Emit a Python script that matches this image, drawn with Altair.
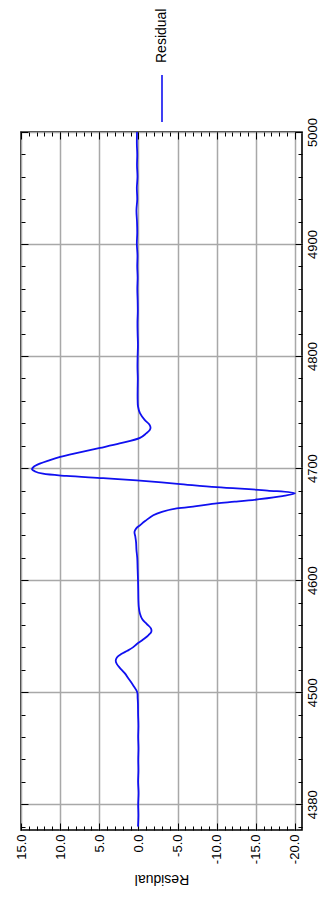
import altair as alt
import pandas as pd

series_name = "Residual"
axis_title = "Residual"

wavelength = [4380, 4390, 4400, 4410, 4420, 4430, 4440, 4450, 4460, 4470, 4480, 4490, 4495,
              4500, 4506, 4512, 4517, 4522, 4525, 4528, 4531, 4534, 4537, 4540, 4543, 4547, 4551,
              4554, 4557, 4561, 4565, 4570, 4576, 4582, 4590, 4600, 4610, 4620, 4627, 4634,
              4639, 4643, 4646, 4649, 4653, 4658, 4661, 4664, 4666, 4668.5, 4670, 4672, 4675,
              4677.5, 4680, 4683, 4686, 4689, 4691, 4693, 4695, 4697, 4699, 4701, 4704, 4707,
              4710, 4714, 4718, 4722, 4727, 4731, 4734, 4736, 4739, 4743, 4749, 4755, 4761,
              4770, 4780, 4790, 4800, 4810, 4820, 4830, 4840, 4850, 4860, 4870, 4880, 4890,
              4900, 4910, 4920, 4930, 4940, 4950, 4960, 4970, 4980, 4990, 5000]
residual = [0.05, 0.0, 0.03, -0.02, 0.04, 0.0, 0.02, -0.01, 0.03, 0.0, 0.04, 0.06, 0.1,
            0.15, 0.66, 1.25, 1.75, 2.4, 2.75, 2.9, 2.75, 2.2, 1.4, 0.7, 0.2, -0.6, -1.3,
            -1.65, -1.6, -1.05, -0.5, -0.2, -0.05, 0.0, 0.02, 0.05, 0.1, 0.15, 0.25, 0.3,
            0.4, 0.5, 0.3, -0.2, -0.9, -1.9, -3.0, -4.9, -7.4, -10.0, -12.3, -15.1, -18.4,
            -20.0, -16.5, -10.0, -5.0, 0.2, 4.5, 9.2, 12.2, 13.2, 13.6, 13.4, 12.6, 11.4,
            10.0, 7.5, 4.9, 2.4, -0.2, -1.0, -1.45, -1.55, -1.4, -0.8, -0.2, 0.05, 0.1,
            0.1, 0.08, 0.12, 0.1, 0.06, 0.1, 0.12, 0.08, 0.1, 0.14, 0.1, 0.15, 0.12,
            0.2, 0.15, 0.18, 0.25, 0.15, 0.2, 0.12, 0.18, 0.15, 0.2, 0.18]

res_major = [-20, -15, -10, -5, 0, 5, 10, 15]
res_minor = list(range(-20, 16))
wl_major = [4400, 4500, 4600, 4700, 4800, 4900, 5000]
wl_major_labels = ["4380", "4500", "4600", "4700", "4800", "4900", "5000"]
wl_minor = list(range(4380, 5001, 20))

df = pd.DataFrame({"wavelength": wavelength, "residual": residual})

FONT = "Liberation Sans"
LINE_COLOR = "#1010f0"
GRID_COLOR = "#a8a8a8"

wl_label_expr = "".join(
    f"datum.value == {v} ? '{lab}' : " for v, lab in zip(wl_major, wl_major_labels)
) + "datum.label"

x_scale = alt.Scale(domain=[-20.9, 15], reverse=True, nice=False, zero=False)
y_scale = alt.Scale(domain=[4377, 5000], nice=False, zero=False)


def tick_axis(orient, values, size):
    return alt.Axis(orient=orient, values=values, labels=False, tickSize=size, offset=-size,
                    tickColor="black", tickWidth=1, domain=False, grid=False, title=None)


bottom_major = alt.Axis(
    orient="bottom", values=res_major, format=".1f",
    labelExpr="replace(datum.label, '\u2212', '-')",
    labelAngle=270, labelAlign="right", labelBaseline="middle",
    labelFont=FONT, labelFontSize=13, labelColor="black", labelPadding=4,
    tickSize=7, offset=-7, tickColor="black", tickWidth=1, domain=False,
    grid=True, gridColor=GRID_COLOR, gridWidth=1.5, gridOpacity=1,
    title=axis_title, titleAngle=180, titleBaseline="bottom", titleFont=FONT,
    titleFontSize=14, titleFontWeight="normal", titleColor="black", titlePadding=8,
)
right_major = alt.Axis(
    orient="right", values=wl_major, labelExpr=wl_label_expr,
    labelAngle=270, labelAlign="center", labelBaseline="top",
    labelFont=FONT, labelFontSize=13, labelColor="black", labelPadding=4,
    tickSize=7, offset=-7, tickColor="black", tickWidth=1, domain=False,
    grid=True, gridColor=GRID_COLOR, gridWidth=1.5, gridOpacity=1, title=None,
)

base = alt.Chart(df)

line = base.mark_line(color=LINE_COLOR, strokeWidth=1.8, interpolate="catmull-rom").encode(
    x=alt.X("residual:Q", scale=x_scale, axis=bottom_major),
    y=alt.Y("wavelength:Q", scale=y_scale, axis=right_major),
    order="wavelength:Q",
)

def ghost(xaxis, yaxis):
    return base.mark_line(strokeOpacity=0).encode(
        x=alt.X("residual:Q", scale=x_scale, axis=xaxis),
        y=alt.Y("wavelength:Q", scale=y_scale, axis=yaxis),
        order="wavelength:Q",
    )

g1 = ghost(tick_axis("bottom", res_minor, 4), tick_axis("right", wl_minor, 4))
g2 = ghost(tick_axis("top", res_major, 7), tick_axis("left", wl_major, 7))
g3 = ghost(tick_axis("top", res_minor, 4), tick_axis("left", wl_minor, 4))

legend_df = pd.DataFrame({"label": [series_name]})
legend_rule = alt.Chart(legend_df).mark_rule(color=LINE_COLOR, strokeWidth=1.6).encode(
    x=alt.value(141), y=alt.value(-57), y2=alt.value(-10)
)
legend_text = alt.Chart(legend_df).mark_text(
    angle=270, align="left", baseline="middle", font=FONT, fontSize=14, color="black"
).encode(x=alt.value(141), y=alt.value(-69), text="label:N")

chart = alt.layer(line, g1, g2, g3, legend_rule, legend_text).resolve_axis(
    x="independent", y="independent"
).properties(
    width=281, height=698,
    autosize=alt.AutoSizeParams(type="none"),
    padding={"left": 21, "top": 132, "right": 18, "bottom": 67},
    background="white",
).configure_view(stroke="black", strokeWidth=1.6)

chart.save("out.html", embed_options={"renderer": "svg", "actions": False})
